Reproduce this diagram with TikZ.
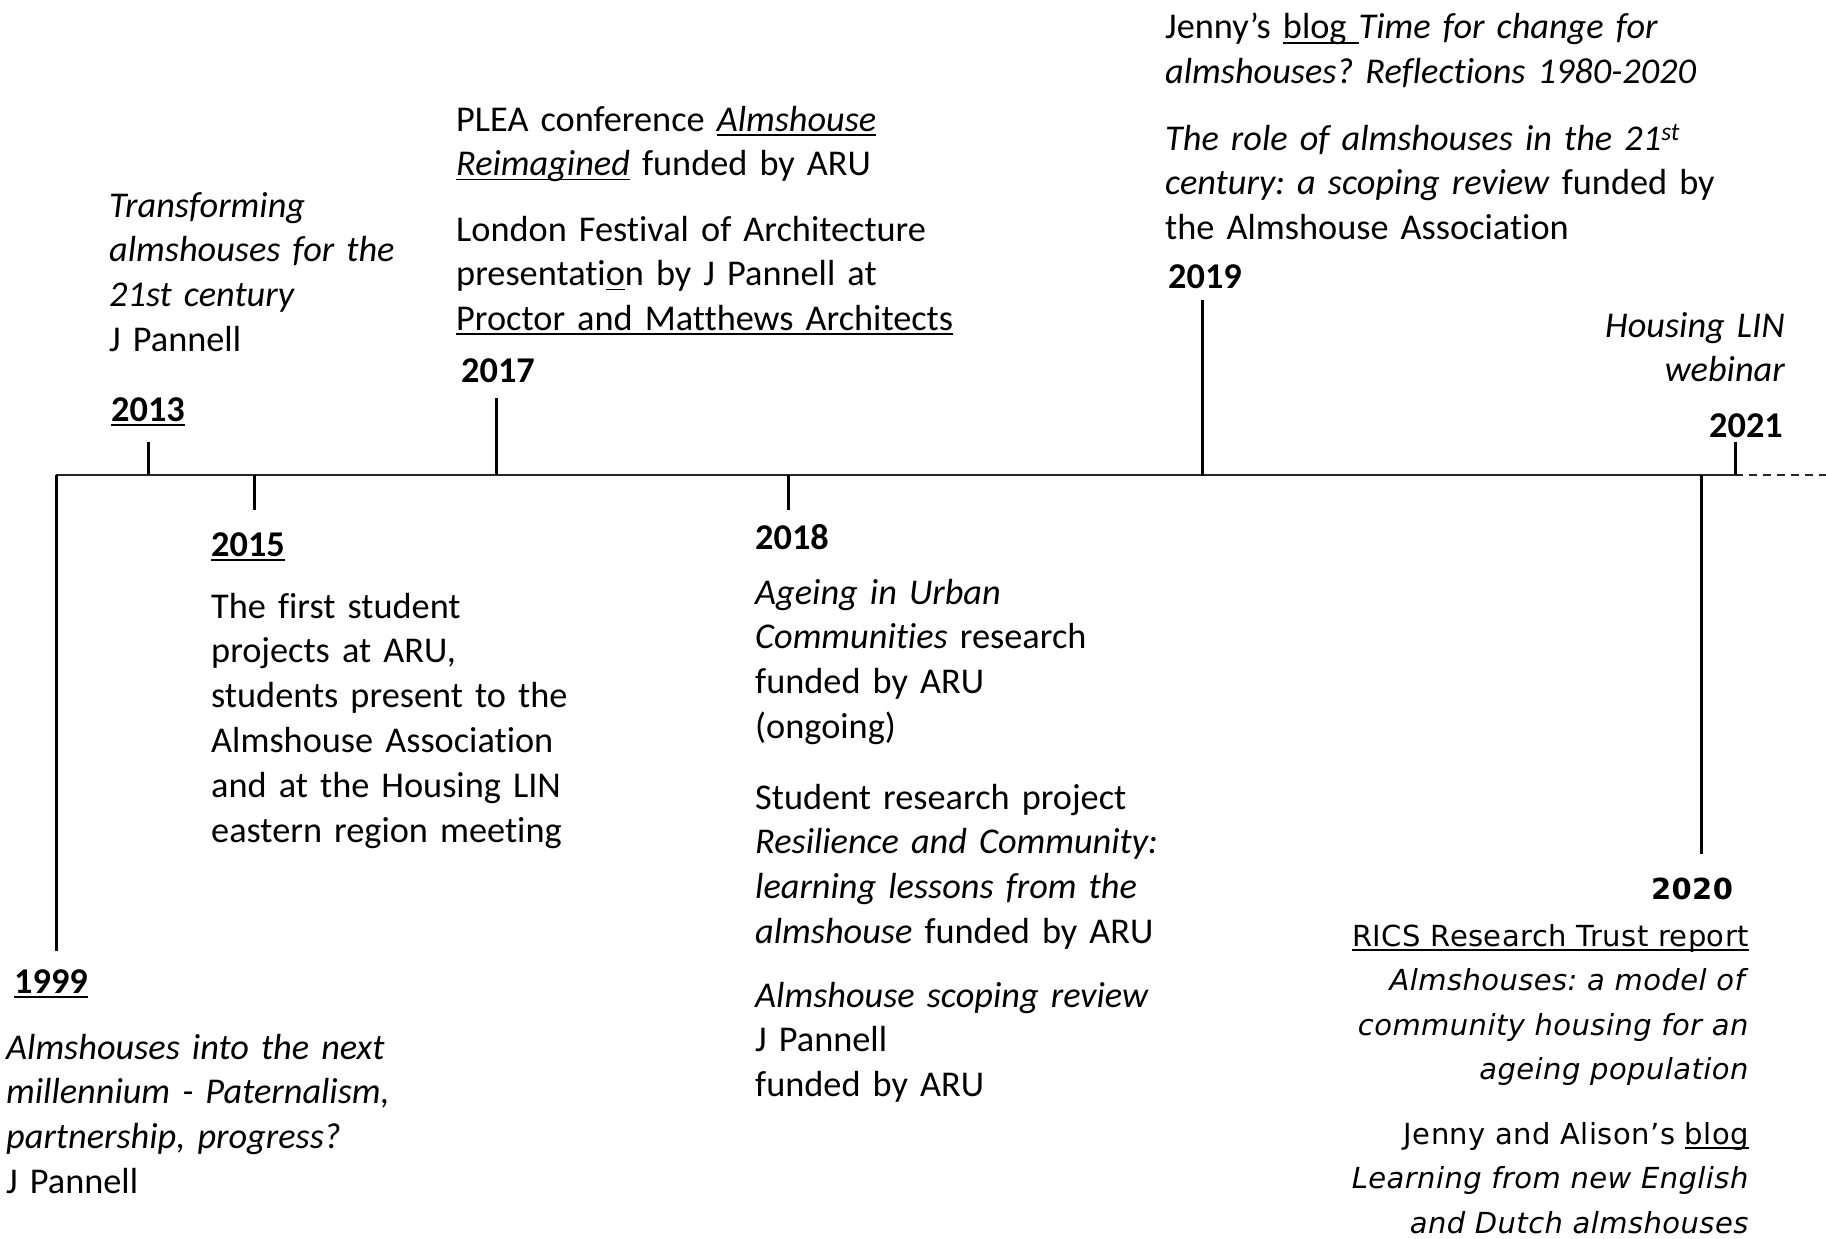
\documentclass[tikz,border=0pt]{standalone}
\usepackage{fontspec}
\setmainfont{Carlito}[Ligatures=NoCommon]
\newfontfamily\verdfont{DejaVu Sans}[LetterSpace=1.5]
\newcommand\uln[1]{\leavevmode\setbox0\hbox{#1}\rlap{\rule[-4.5pt]{\wd0}{1.8pt}}\box0\relax}
\newcommand\bodyfont{\fontsize{36.3}{44.8}\selectfont}
\newcommand\rightfont{\verdfont\fontsize{29}{44.5}\selectfont}
\frenchspacing
\begin{document}
\begin{tikzpicture}[x=1pt,y=-1pt,
  para/.style={inner sep=0pt, anchor=base west, align=left, text width=760pt, font=\bodyfont},
  parar/.style={inner sep=0pt, anchor=base east, align=right, text width=760pt, font=\rightfont},
  year/.style={inner sep=0pt, anchor=base west, font=\bodyfont\bfseries},
  axisline/.style={line width=1.6pt, black!85},
  tickline/.style={line width=3pt}]
\useasboundingbox (0,0) rectangle (1826,1239);

% axis coordinates
\coordinate (a1999) at (56,475);
\coordinate (a2013) at (148,475);
\coordinate (a2015) at (254,475);
\coordinate (a2017) at (496,475);
\coordinate (a2018) at (788,475);
\coordinate (a2019) at (1202,476);
\coordinate (a2020) at (1701,475);
\coordinate (a2021) at (1735,475);
\coordinate (aend) at (1826,475);

\coordinate (t1999) at (56,951);
\coordinate (t2013) at (148,442);
\coordinate (t2015) at (254,510);
\coordinate (t2017) at (496,398);
\coordinate (t2018) at (788,510);
\coordinate (t2019) at (1202,300);
\coordinate (t2020) at (1701,854);
\coordinate (t2021) at (1735,442);

\draw[axisline] (a1999) -- (a2021);
\draw[axisline, dash pattern=on 8pt off 6pt] (a2021) -- (aend);
\foreach \y in {1999,2013,2015,2017,2018,2019,2020,2021}
  \draw[tickline] (a\y) -- (t\y);

% 1999
\node[year] (y1999) at (14,993) {\uln{1999}};
\node[para] (p1999) at (6,1059) {\itshape Almshouses into the next\\ millennium - Paternalism,\\ partnership, progress?\\ \upshape J Pannell};

% 2013
\node[year] (y2013) at (111,421) {\uln{2013}};
\node[para] (p2013) at (109,217) {\itshape Transforming\\ almshouses for the\\ 21st century\\ \upshape J Pannell};

% 2015
\node[year] (y2015) at (211,556) {\uln{2015}};
\node[para] (p2015) at (211,618) {The first student\\ projects at ARU,\\ students present to the\\ Almshouse Association\\ and at the Housing LIN\\ eastern region meeting};

% 2017
\node[year] (y2017) at (461,382) {2017};
\node[para] (p2017a) at (456,131) {PLEA conference \uln{\textit{Almshouse}}\\ \uln{\textit{Reimagined}} funded by ARU};
\node[para] (p2017b) at (456,241) {London Festival of Architecture\\ presentati\uln{o}n by J Pannell at\\ \uln{Proctor and Matthews Architects}};

% 2018
\node[year] (y2018) at (755,549) {2018};
\node[para] (p2018a) at (755,604) {\textit{Ageing in Urban}\\ \textit{Communities} research\\ funded by ARU\\ (ongoing)};
\node[para] (p2018b) at (755,809) {Student research project\\ \textit{Resilience and Community:}\\ \textit{learning lessons from the}\\ \textit{almshouse} funded by ARU};
\node[para] (p2018c) at (755,1007) {\textit{Almshouse scoping review}\\ J Pannell\\ funded by ARU};

% 2019
\node[year] (y2019) at (1168,288) {2019};
\node[para] (p2019a) at (1165,39) {Jenny’s \uln{blog }\textit{Time for change for}\\ \textit{almshouses? Reflections 1980-2020}};
\node[para] (p2019b) at (1165,150) {\textit{The role of almshouses in the 21\textsuperscript{st}}\\ \textit{century: a scoping review} funded by\\ the Almshouse Association};

% 2021
\node[inner sep=0pt, anchor=base east, font=\bodyfont\bfseries] (y2021) at (1783,437) {2021};
\node[inner sep=0pt, anchor=base east, align=right, text width=400pt, font=\bodyfont\itshape] (p2021) at (1785,337) {Housing LIN\\ webinar};

% 2020
\node[inner sep=0pt, anchor=base, font=\rightfont\bfseries] (y2020) at (1692,899) {2020};
\node[parar] (p2020a) at (1749,946) {\uln{RICS Research Trust report}\\ \textit{Almshouses: a model of}\\ \textit{community housing for an}\\ \textit{ageing population}};
\node[parar] (p2020b) at (1749,1144) {Jenny and Alison’s \uln{blog}\\ \textit{Learning from new English}\\ \textit{and Dutch almshouses}};
\end{tikzpicture}
\end{document}
